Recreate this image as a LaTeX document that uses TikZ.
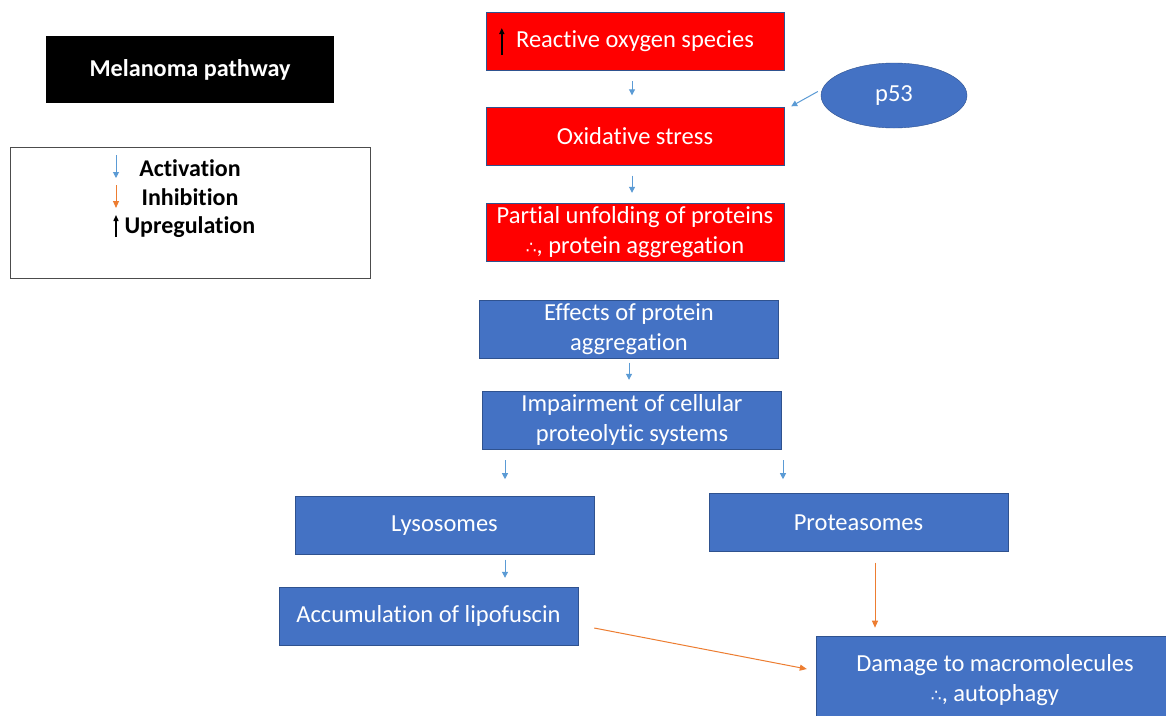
\documentclass[tikz,border=0pt]{standalone}
\usepackage{fontspec}
\setmainfont{Carlito}[Ligatures=NoCommon]
\newfontfamily\symfont{DejaVu Sans}
\usetikzlibrary{arrows.meta,positioning,shapes.geometric}
\definecolor{boxblue}{HTML}{4472C4}
\definecolor{edgeblue}{HTML}{2F528F}
\definecolor{actblue}{HTML}{5B9BD5}
\definecolor{inhorange}{HTML}{ED7D31}
\newcommand{\thus}{{\symfont\fontsize{17}{17}\selectfont ∴}}

\begin{document}
\begin{tikzpicture}[x=1pt, y=-1pt, align=center, font=\fontsize{24.5}{30}\selectfont,
	redbox/.style = {draw=edgeblue, fill=red, text=white, minimum width=298pt, minimum height=58pt, inner sep=0pt},
	bluebox/.style = {draw=edgeblue, fill=boxblue, text=white, minimum width=299pt, minimum height=58pt, inner sep=0pt},
	legtext/.style = {font=\fontsize{24}{28}\selectfont\bfseries},
	act/.style = {actblue, line width=1pt, -{Triangle[length=6pt,width=6pt]}},
	inh/.style = {inhorange, line width=1pt, -{Triangle[length=7pt,width=6pt]}},
	upr/.style = {black, line width=1.4pt, -{Triangle[length=6pt,width=5pt]}}]
	\clip (0,0) rectangle (1166,715);
	\fill[white] (0,0) rectangle (1166,715);
	% title and legend
	\node[fill=black, text=white, minimum width=288pt, minimum height=67pt, font=\fontsize{24.2}{28}\selectfont\bfseries] (title) at (190,69.5) {Melanoma pathway};
	\node[draw=black!70, line width=0.8pt, minimum width=360pt, minimum height=131pt] (legend) at (190,212.5) {};
	\node[legtext] (lact) at (190,168) {Activation};
	\node[legtext] (linh) at (190,197) {Inhibition};
	\node[legtext, anchor=west] (lupr) at (121,227) {Upregulation};
	\coordinate (ca) at (116,155);
	\coordinate (ci) at (116,185);
	\coordinate (cu) at (116,237);
	\draw[act] (ca) -- ++(0,23);
	\draw[inh] (ci) -- ++(0,23);
	\draw[upr] (cu) -- ++(0,-22);
	% red boxes
	\node[redbox] (ros) at (635,41) {Reactive oxygen species};
	\node[redbox] (ox) at (635,136.5) {Oxidative stress};
	\node[redbox] (unf) at (635,232) {Partial unfolding of proteins\\\thus, protein aggregation};
	\node[draw=edgeblue, fill=boxblue, text=white, ellipse, minimum width=146pt, minimum height=65pt, inner sep=0pt] (p53) at (894,95.5) {p53};
	\draw[upr] ([xshift=16pt,yshift=-14pt]ros.west) -- ([xshift=16pt,yshift=13pt]ros.west);
	% blue boxes
	\node[bluebox] (eff) at (629,329.5) {Effects of protein\\aggregation};
	\node[bluebox] (imp) at (632,420) {Impairment of cellular\\proteolytic systems};
	\node[bluebox] (lys) at (444.5,525.5) {Lysosomes};
	\node[bluebox] (prot) at (858.5,522.5) {Proteasomes};
	\node[bluebox] (acc) at (428.5,616) {Accumulation of lipofuscin};
	\node[bluebox, minimum width=358pt, minimum height=88pt] (dam) at (995,680) {Damage to macromolecules\\\thus, autophagy};
	% connectors
	\draw[act] ([xshift=-3pt,yshift=-11pt]ros.south) -- ([xshift=-3pt,yshift=12pt]ox.north);
	\draw[act] ([xshift=-3pt,yshift=-10pt]ox.south) -- ([xshift=-3pt,yshift=10pt]unf.north);
	\draw[act] ([yshift=-4pt]eff.south) -- ([xshift=-3pt,yshift=11pt]imp.north);
	\draw[act] ([xshift=-3pt,yshift=4pt]p53.west) -- ([xshift=7pt,yshift=1pt]ox.north east);
	\draw[act] ([xshift=-127pt,yshift=-11pt]imp.south) -- ++(0,19);
	\draw[act] ([xshift=151pt,yshift=-11pt]imp.south) -- ++(0,19);
	\draw[act] ([xshift=60.5pt,yshift=-5pt]lys.south) -- ([xshift=76.5pt,yshift=9pt]acc.north);
	\draw[inh] ([xshift=16.5pt,yshift=-11pt]prot.south) -- ++(0,65);
	\draw[inh] ([xshift=16pt,yshift=-12pt]acc.east) -- ([xshift=-9pt,yshift=11pt]dam.west);
\end{tikzpicture}
\end{document}
